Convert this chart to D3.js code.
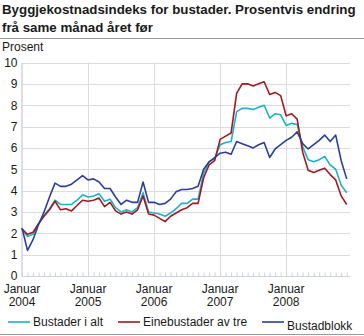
<!DOCTYPE html>
<html><head><meta charset="utf-8">
<script src="https://cdn.jsdelivr.net/npm/d3@7"></script>
<style>
html,body{margin:0;padding:0;background:#fff;}
svg{display:block;font-family:"Liberation Sans",Arial,sans-serif;}
</style></head>
<body><svg id="c" width="364" height="336"></svg>
<script>
const titleLines = ["Byggjekostnadsindeks for bustader. Prosentvis endring", "frå same månad året før"];
const yLabel = "Prosent";
const startYear = 2004;
const yTicks = [0,1,2,3,4,5,6,7,8,9,10];
const xTickYears = ["2004","2005","2006","2007","2008"];
const xTickMonth = "Januar";
const seriesNames = ["Bustader i alt", "Einebustader av tre", "Bustadblokk"];
const seriesColors = ["#1ab3c6", "#a3191f", "#2b3f98"];

// monthly values Jan 2004 - Dec 2008
const bustaderIAlt = [
  2.2,1.85,1.95,2.45,2.85,3.15,3.55,3.35,3.35,3.35,3.55,3.8,
  3.7,3.75,3.85,3.5,3.6,3.2,3.0,3.1,3.0,3.2,3.9,3.0,
  2.95,2.9,2.8,2.95,3.15,3.4,3.4,3.6,3.6,4.8,5.35,5.5,
  6.15,6.25,6.3,7.7,7.85,7.85,7.8,7.9,8.0,7.4,7.6,7.55,
  7.05,7.15,7.1,6.05,5.45,5.35,5.45,5.6,5.2,5.0,4.25,3.9
];
const einebustaderAvTre = [
  2.2,1.95,2.05,2.45,2.8,3.1,3.5,3.1,3.15,3.05,3.3,3.55,
  3.5,3.55,3.65,3.25,3.45,3.05,2.9,3.0,2.9,3.1,3.75,2.9,
  2.85,2.7,2.55,2.8,2.95,3.1,3.2,3.4,3.4,4.6,5.2,5.4,
  6.4,6.55,6.7,8.55,9.0,9.0,8.9,9.0,9.1,8.5,8.6,8.45,
  7.5,7.6,7.35,5.8,4.95,4.85,4.95,5.05,4.75,4.5,3.75,3.35
];
const bustadblokk = [
  2.25,1.2,1.7,2.4,3.0,3.7,4.35,4.2,4.2,4.3,4.5,4.7,
  4.5,4.55,4.4,4.1,4.1,3.7,3.35,3.55,3.45,3.45,4.4,3.45,
  3.45,3.35,3.4,3.6,3.95,4.05,4.05,4.1,4.2,5.0,5.35,5.55,
  5.75,5.8,5.7,6.3,6.2,6.1,6.0,6.15,6.25,5.55,5.95,6.15,
  6.35,6.5,6.75,6.2,5.95,6.15,6.35,6.6,6.3,6.6,5.4,4.55
];
const allSeries = [bustaderIAlt, einebustaderAvTre, bustadblokk];

const svg = d3.select("#c");
const font = '"Liberation Sans",Arial,sans-serif';

// title, sized so the first line spans the chart width
const t = svg.append("g");
const tl = titleLines.map((s,i)=>t.append("text").attr("x",2).attr("y",14+i*18).attr("font-size",14)
   .attr("font-weight","bold").attr("fill","#1a1a1a").text(s));
const w0 = tl[0].node().getComputedTextLength();
const fs = Math.min(14, 14*354/w0);
tl.forEach(e=>e.attr("font-size",fs));

svg.append("line").attr("x1",0).attr("x2",364).attr("y1",38.5).attr("y2",38.5)
  .attr("stroke","#9a9a9a").attr("stroke-width",1);
svg.append("line").attr("x1",0).attr("x2",364).attr("y1",334.5).attr("y2",334.5)
  .attr("stroke","#9a9a9a").attr("stroke-width",1);

const x = d3.scaleLinear().domain([0, 59.6]).range([22, 350]);
const y = d3.scaleLinear().domain([0, 10]).range([276, 62.5]);

svg.append("text").attr("x",2).attr("y",51).attr("font-size",12).attr("fill","#1a1a1a").text(yLabel);

// horizontal grid
const grid = svg.append("g");
grid.selectAll("line.h").data(yTicks.filter(d=>d>0)).join("line")
  .attr("x1",22).attr("x2",350).attr("y1",d=>Math.round(y(d))+0.5).attr("y2",d=>Math.round(y(d))+0.5)
  .attr("stroke","#d9dce3").attr("stroke-width",1);
// vertical grid at Januaries
const janIdx = xTickYears.map((_,i)=>i*12);
grid.selectAll("line.v").data(janIdx.slice(1)).join("line")
  .attr("x1",d=>Math.round(x(d))+0.5).attr("x2",d=>Math.round(x(d))+0.5)
  .attr("y1",y(10)).attr("y2",y(0))
  .attr("stroke","#d9dce3").attr("stroke-width",1);

// y axis
const yAxis = d3.axisLeft(y).tickValues(yTicks).tickSize(0).tickPadding(4);
const gy = svg.append("g").attr("transform","translate(21.5,0)").call(yAxis);
gy.select(".domain").attr("stroke","#cfd3db").attr("stroke-width",1.5);
gy.selectAll("text").attr("font-size",12).attr("font-family",font).attr("fill","#1a1a1a");

// x axis with monthly minor ticks
const xAxis = d3.axisTop(x).tickValues(d3.range(0,60)).tickSize(4).tickFormat("");
const gx = svg.append("g").attr("transform",`translate(0,${y(0)+0.5})`).call(xAxis);
gx.select(".domain").attr("stroke","#cfd3db").attr("stroke-width",1).attr("d",`M22,0H350`);
gx.selectAll(".tick line").attr("stroke","#cfd3db");
const xl = svg.append("g");
janIdx.forEach((d,i)=>{
  const tx = xl.append("text").attr("text-anchor","middle").attr("font-size",12).attr("fill","#1a1a1a");
  tx.append("tspan").attr("x",x(d)).attr("y",293).text(xTickMonth);
  tx.append("tspan").attr("x",x(d)).attr("y",306).text(xTickYears[i]);
});

// lines
const line = d3.line().x((d,i)=>x(i)).y(d=>y(d));
allSeries.forEach((s,k)=>{
  svg.append("path").datum(s).attr("d",line).attr("fill","none")
    .attr("stroke",seriesColors[k]).attr("stroke-width",1.6).attr("stroke-linejoin","round");
});

// legend
const legPos = [{x:8, ty:0},{x:118, ty:0},{x:262, ty:4}];
seriesNames.forEach((n,k)=>{
  const g = svg.append("g");
  g.append("line").attr("x1",legPos[k].x).attr("x2",legPos[k].x+22).attr("y1",322).attr("y2",322)
    .attr("stroke",seriesColors[k]).attr("stroke-width",1.6);
  g.append("text").attr("x",legPos[k].x+25).attr("y",326+legPos[k].ty).attr("font-size",12)
    .attr("fill","#1a1a1a").text(n);
});
</script></body></html>
